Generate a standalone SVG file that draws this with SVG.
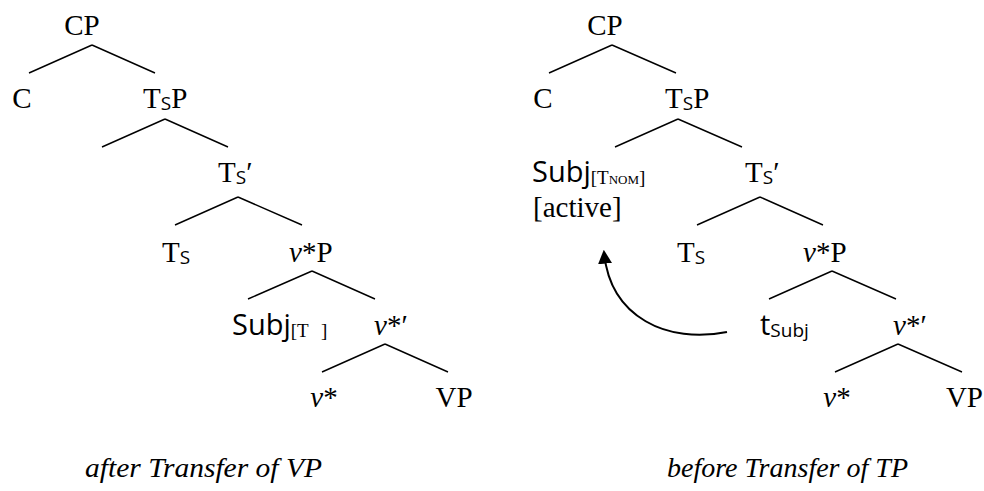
<svg xmlns="http://www.w3.org/2000/svg" width="984" height="491" viewBox="0 0 984 491">
<style>
text{font-family:"Liberation Serif","DejaVu Serif",serif;font-size:29px;fill:#000}
.s{font-family:"Open Sans","Liberation Sans",sans-serif}
.sub{font-size:19px}
.sc{font-size:13px}
.i{font-style:italic}
.cap{font-style:italic;font-size:28px}
.e{stroke:#000;stroke-width:1.4;fill:none}
.mv{stroke:#000;stroke-width:2;fill:none}
</style>
<defs>
<marker id="ah" viewBox="0 0 12 12" refX="10" refY="6" markerWidth="14" markerHeight="14" markerUnits="userSpaceOnUse" orient="auto">
<path d="M0,0 L12,6 L0,12 z" fill="#000"/>
</marker>
</defs>
<g id="connectors">
<path class="e" d="M92,45 L29,73 M92,45 L155,73 M165,119 L102,147 M165,119 L228,147 M238,197 L175,225 M238,197 L302,225 M312,271 L248,299 M312,271 L375,299 M385,344 L322,372 M385,344 L448,372"/>
<path class="e" d="M612,45 L549,73 M612,45 L676,73 M678,119 L615,147 M678,119 L742,147 M760,197 L697,225 M760,197 L823,225 M832,271 L769,299 M832,271 L896,299 M898,344 L835,372 M898,344 L962,372"/>
<path class="mv" d="M727,332 C668,344 610,318 604,252" marker-end="url(#ah)"/>
</g>
<g id="left-tree">
<g id="l-cp"><text x="82" y="35" text-anchor="middle">CP</text></g>
<g id="l-c"><text x="22" y="108" text-anchor="middle">C</text></g>
<g id="l-tsp"><text x="143" y="108">T<tspan class="s sub" dy="2">S</tspan><tspan dy="-2">P</tspan></text></g>
<g id="l-tsbar"><text x="218" y="182">T<tspan class="s sub" dy="2">S</tspan><tspan dy="-2">′</tspan></text></g>
<g id="l-ts"><text x="162" y="262">T<tspan class="s sub" dy="2">S</tspan></text></g>
<g id="l-vp"><text x="289" y="262"><tspan class="i">v</tspan>*P</text></g>
<g id="l-subj"><text x="232" y="335"><tspan class="s">Subj</tspan><tspan class="sub" dy="2">[T</tspan><tspan class="sub" x="321">]</tspan></text></g>
<g id="l-vbar"><text x="374" y="335"><tspan class="i">v</tspan>*′</text></g>
<g id="l-v"><text x="324" y="407" text-anchor="middle"><tspan class="i">v</tspan>*</text></g>
<g id="l-vpp"><text x="454" y="407" text-anchor="middle">VP</text></g>
<g id="l-caption"><text class="cap" x="85" y="477" textLength="237" lengthAdjust="spacingAndGlyphs">after Transfer of VP</text></g>
</g>
<g id="right-tree">
<g id="r-cp"><text x="605" y="35" text-anchor="middle">CP</text></g>
<g id="r-c"><text x="543" y="108" text-anchor="middle">C</text></g>
<g id="r-tsp"><text x="665" y="108">T<tspan class="s sub" dy="2">S</tspan><tspan dy="-2">P</tspan></text></g>
<g id="r-subj"><text x="532" y="182"><tspan class="s">Subj</tspan><tspan class="sub" dy="2">[T</tspan><tspan class="sc">NOM</tspan><tspan class="sub">]</tspan></text><text x="533" y="217">[active]</text></g>
<g id="r-tsbar"><text x="745" y="182">T<tspan class="s sub" dy="2">S</tspan><tspan dy="-2">′</tspan></text></g>
<g id="r-ts"><text x="677" y="262">T<tspan class="s sub" dy="2">S</tspan></text></g>
<g id="r-vp"><text x="803" y="262"><tspan class="i">v</tspan>*P</text></g>
<g id="r-t"><text x="760" y="335"><tspan class="s">t</tspan><tspan class="s sub" dy="2">Subj</tspan></text></g>
<g id="r-vbar"><text x="893" y="335"><tspan class="i">v</tspan>*′</text></g>
<g id="r-v"><text x="837" y="407" text-anchor="middle"><tspan class="i">v</tspan>*</text></g>
<g id="r-vpp"><text x="983" y="407" text-anchor="end">VP</text></g>
<g id="r-caption"><text class="cap" x="667" y="477" textLength="241" lengthAdjust="spacingAndGlyphs">before Transfer of TP</text></g>
</g>
</svg>
